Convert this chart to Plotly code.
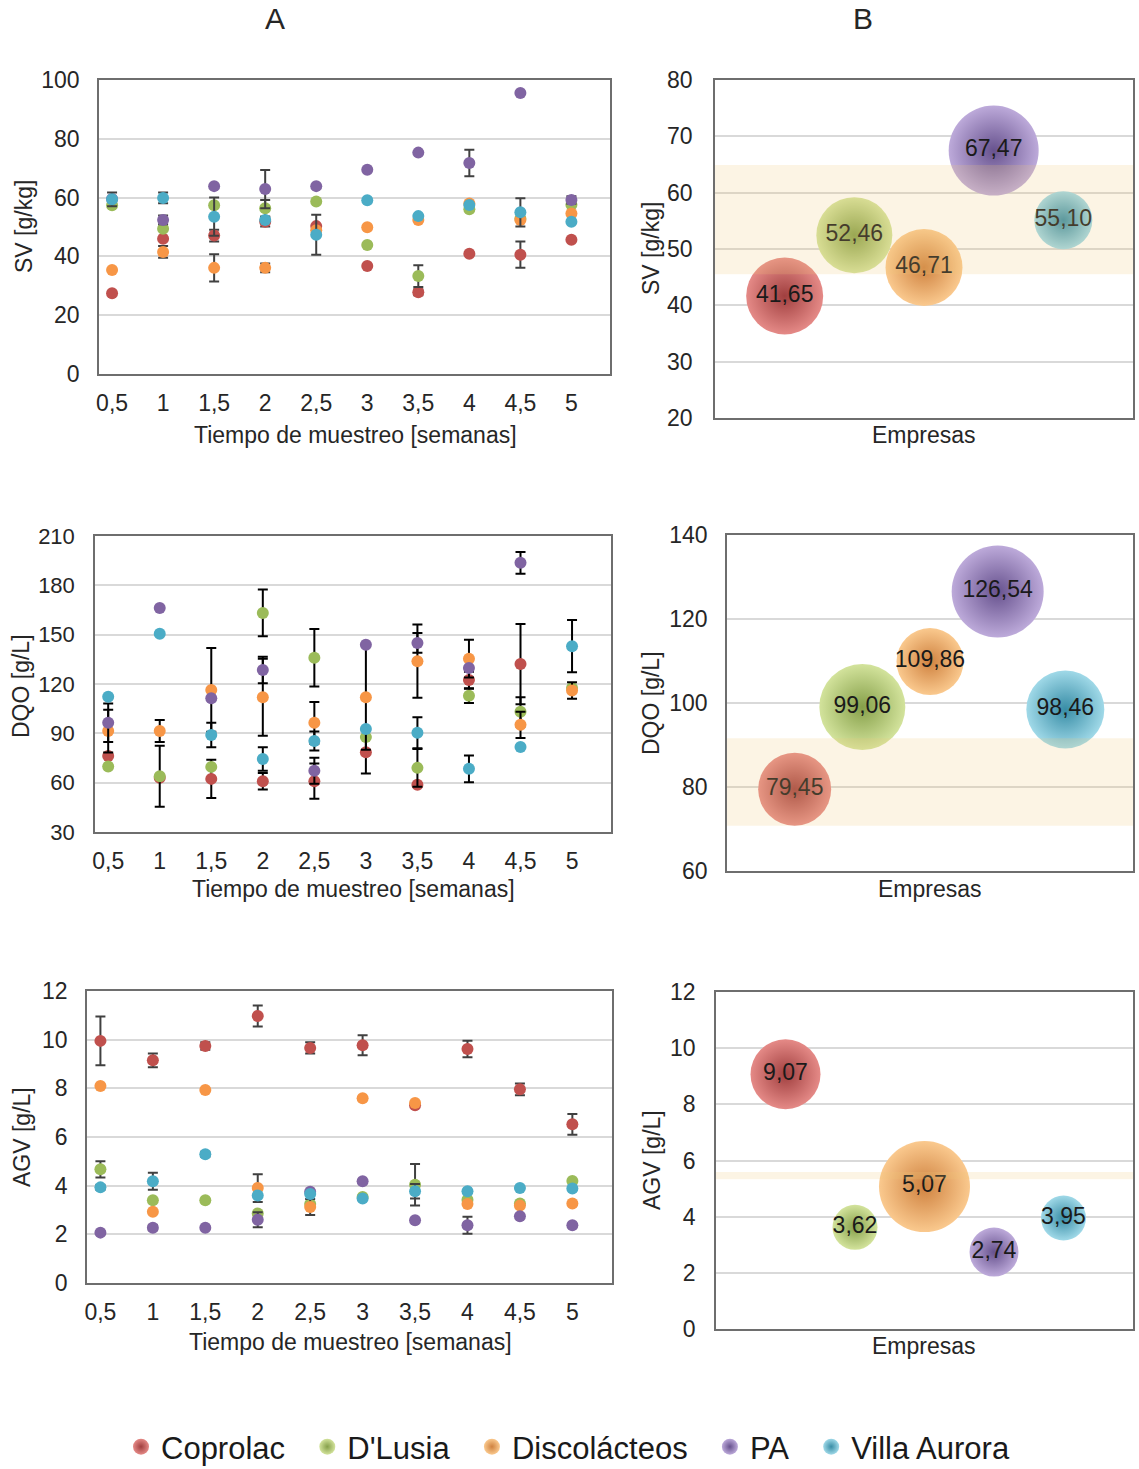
import plotly.graph_objects as go

# ---------------- DATA ----------------
companies = ["Coprolac", "D'Lusia", "Discolácteos", "PA", "Villa Aurora"]
weeks = [0.5, 1, 1.5, 2, 2.5, 3, 3.5, 4, 4.5, 5]
week_labels = ["0,5", "1", "1,5", "2", "2,5", "3", "3,5", "4", "4,5", "5"]

# Panel A1: SV [g/kg]
sv_coprolac = [27.5, 46.0, 47.1, 51.8, 50.3, 36.7, 27.8, 40.9, 40.6, 45.7]
sv_dlusia = [57.4, 49.4, 57.4, 56.4, 58.7, 43.9, 33.3, 56.0, 52.8, 57.6]
sv_discolacteos = [35.4, 41.5, 36.1, 36.1, 48.9, 49.9, 52.4, 58.0, 52.4, 54.6]
sv_pa = [59.5, 52.4, 63.9, 62.9, 63.9, 69.5, 75.3, 71.8, 95.6, 59.2]
sv_villa = [59.4, 59.9, 53.5, 52.4, 47.4, 59.1, 53.7, 57.5, 55.0, 51.8]
sv_err_coprolac = [None, None, 2.0, 1.6, None, None, 1.0, None, 4.5, None]
sv_err_dlusia = [None, None, None, 2.8, None, None, 3.7, None, None, None]
sv_err_discolacteos = [None, 2.0, 4.6, 1.5, None, None, None, None, None, None]
sv_err_pa = [None, 1.5, None, 6.5, None, None, None, 4.5, None, 1.3]
sv_err_villa = [2.3, 1.8, 6.5, None, 6.8, None, None, None, 4.8, None]

# Panel A2: DQO [g/L]
dqo_coprolac = [76.2, 63.0, 62.3, 60.9, 60.9, 78.5, 58.7, 122.4, 132.1, None]
dqo_dlusia = [69.8, 63.9, 69.6, 163.2, 136.0, 87.7, 69.0, 112.8, 103.1, 117.6]
dqo_discolacteos = [91.4, 91.4, 116.4, 112.0, 96.4, 112.0, 133.9, 135.4, 95.2, 116.0]
dqo_pa = [96.4, 166.2, 111.4, 128.5, 67.2, 143.8, 145.0, 129.7, 193.7, None]
dqo_villa = [112.2, 150.5, 89.0, 74.4, 85.3, 92.6, 90.4, 68.4, 81.7, 143.0]
dqo_err_coprolac = [None, None, 11.6, 5.0, 10.7, 13.0, None, 5.0, 24.4, None]
dqo_err_dlusia = [None, 18.6, None, 14.2, 17.5, None, 11.5, 4.3, 8.9, None]
dqo_err_discolacteos = [13.0, 6.7, 25.5, 23.4, 12.7, 32.0, 22.3, 11.5, 8.0, 5.0]
dqo_err_pa = [11.7, None, None, 8.0, 7.9, None, 6.0, None, 6.6, None]
dqo_err_villa = [None, None, 7.4, 7.2, 5.8, None, 9.4, 8.1, None, 15.9]

# Panel A3: AGV [g/L]
agv_coprolac = [9.95, 9.15, 9.74, 10.97, 9.66, 9.77, 7.30, 9.62, 7.96, 6.52]
agv_dlusia = [4.67, 3.40, 3.40, 2.86, 3.25, 3.53, 4.04, 3.42, 3.27, 4.19]
agv_discolacteos = [8.10, 2.93, 7.93, 3.90, 3.12, 7.59, 7.40, 3.25, 3.18, 3.27]
agv_pa = [2.07, 2.27, 2.27, 2.60, 3.75, 4.18, 2.58, 2.37, 2.74, 2.37]
agv_villa = [3.93, 4.18, 5.29, 3.60, 3.66, 3.47, 3.77, 3.77, 3.90, 3.88]
agv_err_coprolac = [1.0, 0.28, 0.15, 0.43, 0.23, 0.41, None, 0.34, 0.24, 0.43]
agv_err_dlusia = [0.33, None, None, None, None, None, 0.85, None, None, None]
agv_err_discolacteos = [None, None, None, 0.57, 0.33, None, None, None, None, None]
agv_err_pa = [None, 0.1, None, 0.31, None, None, None, 0.35, None, None]
agv_err_villa = [0.1, 0.35, 0.1, None, None, None, 0.3, None, None, None]

# Panels B: averages per company (bubble charts)
company_pos = [1, 2, 3, 4, 5]
sv_mean = [41.65, 52.46, 46.71, 67.47, 55.10]
dqo_mean = [79.45, 99.06, 109.86, 126.54, 98.46]
agv_mean = [9.07, 3.62, 5.07, 2.74, 3.95]
sv_bubble = [77, 76, 77, 90, 58]
dqo_bubble = [73, 86, 67, 92, 78]
agv_bubble = [70, 45, 91, 49, 45]
# reference ranges (shaded bands)
sv_band = [45.5, 64.9]
dqo_band = [70.8, 91.6]
agv_band = [5.33, 5.59]

# ---------------- STYLE / LAYOUT HELPERS ----------------
W, H = 1139, 1469
FONT = "Liberation Sans, Arial, sans-serif"
flat_colors = ["#C0504D", "#9BBB59", "#F79646", "#8064A2", "#4BACC6"]
center_colors = ["#E58A87", "#D3E39C", "#FAC98E", "#BDAADA", "#A0D9E8"]
edge_colors = ["#A03F3F", "#86A04A", "#CF8240", "#67528E", "#388DA6"]
GRID = "#D9D9D9"
LINE = "#6E6E6E"
TXT = "#262626"


def dom_x(a, b):
    return [a / W, b / W]


def dom_y(top, bottom):
    return [1 - bottom / H, 1 - top / H]


fig = go.Figure()

panelsA = [
    ("x", "y", [sv_coprolac, sv_dlusia, sv_discolacteos, sv_pa, sv_villa],
     [sv_err_coprolac, sv_err_dlusia, sv_err_discolacteos, sv_err_pa, sv_err_villa], "#404040"),
    ("x3", "y3", [dqo_coprolac, dqo_dlusia, dqo_discolacteos, dqo_pa, dqo_villa],
     [dqo_err_coprolac, dqo_err_dlusia, dqo_err_discolacteos, dqo_err_pa, dqo_err_villa], "#000000"),
    ("x5", "y5", [agv_coprolac, agv_dlusia, agv_discolacteos, agv_pa, agv_villa],
     [agv_err_coprolac, agv_err_dlusia, agv_err_discolacteos, agv_err_pa, agv_err_villa], "#404040"),
]

for xa, ya, series, errs, ecol in panelsA:
    for i, name in enumerate(companies):
        fig.add_trace(go.Scatter(
            x=weeks, y=series[i], mode="markers", name=name,
            legendgroup=name, showlegend=False, xaxis=xa, yaxis=ya,
            marker=dict(size=12, color=flat_colors[i], line=dict(width=0)),
            error_y=dict(type="data", array=errs[i], visible=True, color=ecol,
                         thickness=2, width=5),
            cliponaxis=False,
        ))

panelsB = [
    ("x2", "y2", sv_mean, sv_bubble),
    ("x4", "y4", dqo_mean, dqo_bubble),
    ("x6", "y6", agv_mean, agv_bubble),
]

NBSP = "\u00a0"
for k, (xa, ya, means, sizes) in enumerate(panelsB):
    for i, name in enumerate(companies):
        legend_name = name + (NBSP * 2 if i < len(companies) - 1 else "")
        fig.add_trace(go.Scatter(
            x=[company_pos[i]], y=[means[i]], mode="markers+text", name=legend_name,
            legendgroup=name, showlegend=(k == 0), xaxis=xa, yaxis=ya,
            text=[f"{means[i]:.2f}".replace(".", ",")],
            textposition="middle center",
            textfont=dict(size=23, color="#1a1a1a", family=FONT),
            marker=dict(size=sizes[i], sizemode="diameter", color=center_colors[i],
                        gradient=dict(type="radial", color=edge_colors[i]),
                        line=dict(width=0)),
            cliponaxis=False,
        ))

TICKFONT = dict(size=23, color=TXT, family=FONT)
common_axis = dict(showline=True, linecolor=LINE, linewidth=1.5, mirror=True,
                   zeroline=False, ticks="", tickfont=TICKFONT, automargin=False)
ygrid = dict(showgrid=True, gridcolor=GRID, gridwidth=1.5)

xa_common = dict(common_axis, range=[0.372, 5.378], tickvals=weeks, ticktext=week_labels,
                 showgrid=False, ticklabelstandoff=8)
xb_common = dict(common_axis, range=[0, 6], showticklabels=False, showgrid=False)

layout_axes = {
    "xaxis": dict(xa_common, domain=dom_x(99, 610), anchor="y"),
    "yaxis": dict(common_axis, **ygrid, domain=dom_y(80, 374), anchor="x", range=[0, 100],
                  dtick=20, ticklabelstandoff=13),
    "xaxis3": dict(xa_common, domain=dom_x(95, 611), anchor="y3"),
    "yaxis3": dict(common_axis, **ygrid, domain=dom_y(536, 832), anchor="x3", range=[30, 210],
                   dtick=30, ticklabelstandoff=14, tickfont=dict(TICKFONT, size=22)),
    "xaxis5": dict(xa_common, domain=dom_x(87, 612), anchor="y5"),
    "yaxis5": dict(common_axis, **ygrid, domain=dom_y(991, 1283), anchor="x5", range=[0, 12],
                   dtick=2, ticklabelstandoff=13),
    "xaxis2": dict(xb_common, domain=dom_x(715, 1133), anchor="y2"),
    "yaxis2": dict(common_axis, **ygrid, domain=dom_y(80, 418), anchor="x2", range=[20, 80],
                   dtick=10, ticklabelstandoff=16),
    "xaxis4": dict(xb_common, domain=dom_x(727, 1133), anchor="y4"),
    "yaxis4": dict(common_axis, **ygrid, domain=dom_y(535, 871), anchor="x4", range=[60, 140],
                   dtick=20, ticklabelstandoff=13),
    "xaxis6": dict(xb_common, domain=dom_x(716, 1133), anchor="y6"),
    "yaxis6": dict(common_axis, **ygrid, domain=dom_y(992, 1329), anchor="x6", range=[0, 12],
                   dtick=2, ticklabelstandoff=14),
}

# reference bands (semi-transparent, drawn over the bubbles as in the original)
shapes = []
for xr, yr, band in [("x2", "y2", sv_band), ("x4", "y4", dqo_band), ("x6", "y6", agv_band)]:
    shapes.append(dict(type="rect", xref=f"{xr} domain", yref=yr, x0=0, x1=1,
                       y0=band[0], y1=band[1], fillcolor="rgba(240,200,120,0.2)",
                       line=dict(width=0), layer="above"))


def ann(text, px, py, size=23, angle=0):
    return dict(text=text, x=px / W, y=1 - py / H, xref="paper", yref="paper",
                showarrow=False, xanchor="center", yanchor="middle", textangle=angle,
                font=dict(size=size, color=TXT, family=FONT))


annotations = [
    ann("A", 275, 18, 30), ann("B", 863, 18, 30),
    ann("SV [g/kg]", 24, 227, 23, -90), ann("Tiempo de muestreo [semanas]", 355, 435),
    ann("DQO [g/L]", 21, 686, 23, -90), ann("Tiempo de muestreo [semanas]", 353, 889),
    ann("AGV [g/L]", 22, 1137, 23, -90), ann("Tiempo de muestreo [semanas]", 350, 1342),
    ann("SV [g/kg]", 651, 249, 23, -90), ann("Empresas", 924, 435),
    ann("DQO [g/L]", 651, 703, 23, -90), ann("Empresas", 930, 889),
    ann("AGV [g/L]", 652, 1160, 23, -90), ann("Empresas", 924, 1346),
]

fig.update_layout(
    width=W, height=H, margin=dict(l=0, r=0, t=0, b=0, autoexpand=False),
    paper_bgcolor="white", plot_bgcolor="white",
    font=dict(family=FONT, color=TXT),
    showlegend=True,
    legend=dict(orientation="h", x=568 / W, xanchor="center",
                y=1 - 1447 / H, yanchor="middle",
                font=dict(size=31, color="#1a1a1a", family=FONT),
                itemsizing="trace", bgcolor="rgba(0,0,0,0)", tracegroupgap=0,
                itemwidth=30),
    shapes=shapes, annotations=annotations,
    **layout_axes,
)

fig.write_html("out.html")
